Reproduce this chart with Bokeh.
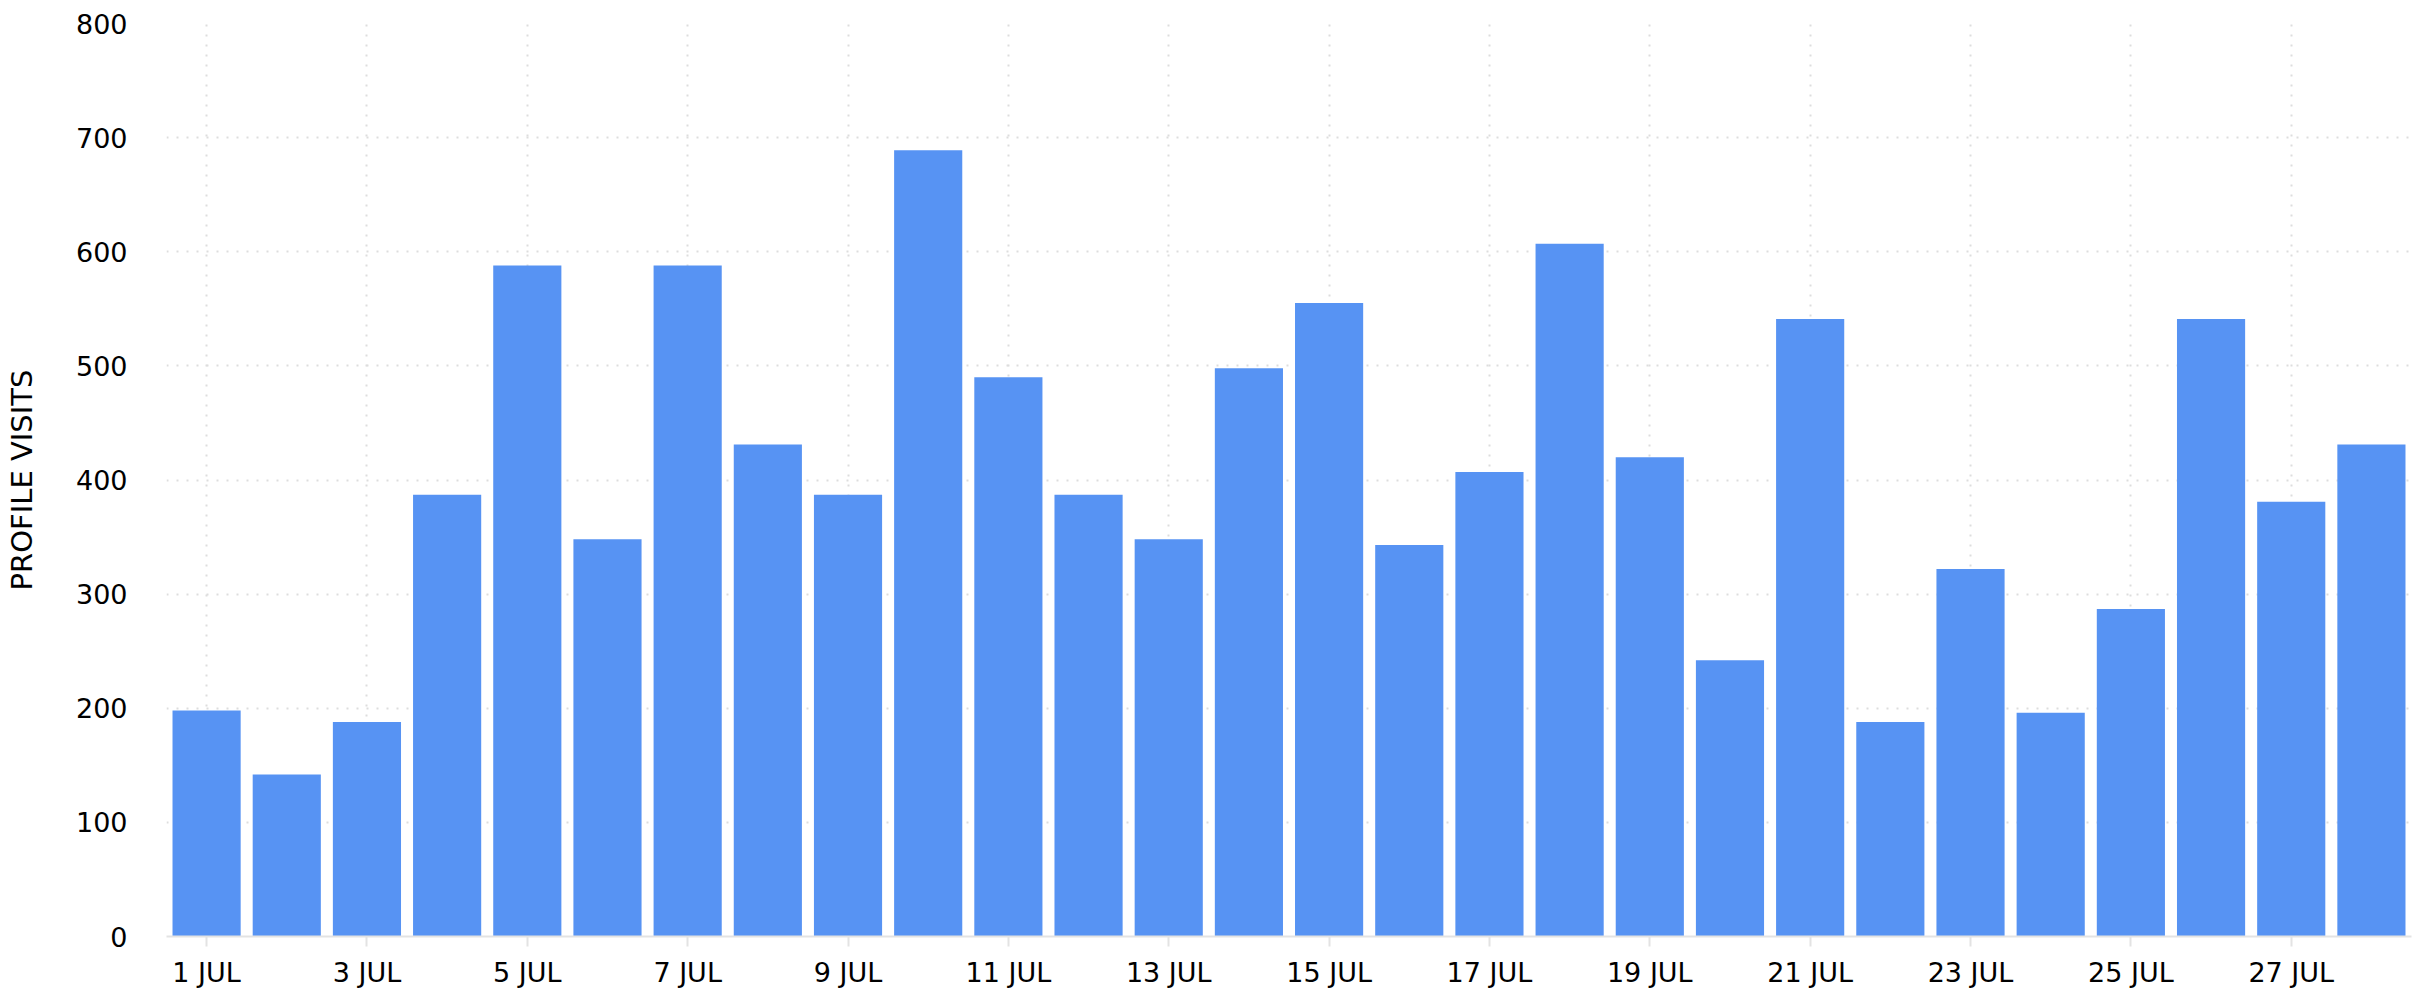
from bokeh.plotting import figure
from bokeh.models import Range1d, FixedTicker
from bokeh.embed import file_html
from bokeh.resources import INLINE

days = list(range(1, 29))
visits = [198, 142, 188, 387, 588, 348, 588, 431, 387, 689, 490, 387, 348, 498,
          555, 343, 407, 607, 420, 242, 541, 188, 322, 196, 287, 541, 381, 431]
tick_days = [1, 3, 5, 7, 9, 11, 13, 15, 17, 19, 21, 23, 25, 27]
tick_labels = ["1 JUL", "3 JUL", "5 JUL", "7 JUL", "9 JUL", "11 JUL", "13 JUL",
               "15 JUL", "17 JUL", "19 JUL", "21 JUL", "23 JUL", "25 JUL", "27 JUL"]
y_ticks = [0, 100, 200, 300, 400, 500, 600, 700, 800]

FONT = "DejaVu Sans"

p = figure(width=2417, height=992, output_backend="svg", toolbar_location=None,
           x_range=Range1d(0.5, 28.5), y_range=Range1d(0, 800),
           min_border_left=166, min_border_right=6, min_border_top=23,
           min_border_bottom=56)
p.outline_line_color = None
p.background_fill_color = "white"
p.border_fill_color = "white"

p.vbar(x=days, top=visits, width=0.85, fill_color="#5793F3", line_color=None)

# x axis
xa = p.xaxis[0]
xa.ticker = FixedTicker(ticks=tick_days)
xa.major_label_overrides = {d: l for d, l in zip(tick_days, tick_labels)}
xa.axis_line_color = "#e3e3e3"
xa.axis_line_width = 2
xa.major_tick_line_color = "#e3e3e3"
xa.major_tick_line_width = 2
xa.major_tick_in = 0
xa.major_tick_out = 10
xa.minor_tick_line_color = None
xa.major_label_standoff = 10
xa.major_label_text_font = FONT
xa.major_label_text_font_size = "27px"
xa.major_label_text_color = "#000000"

# y axis
ya = p.yaxis[0]
ya.ticker = FixedTicker(ticks=y_ticks)
ya.axis_line_color = None
ya.major_tick_line_color = None
ya.minor_tick_line_color = None
ya.major_tick_in = 0
ya.major_tick_out = 0
ya.major_label_standoff = 39
ya.major_label_text_font = FONT
ya.major_label_text_font_size = "27px"
ya.major_label_text_color = "#000000"
ya.axis_label = "PROFILE VISITS"
ya.axis_label_text_font = FONT
ya.axis_label_text_font_size = "29px"
ya.axis_label_text_font_style = "normal"
ya.axis_label_text_color = "#000000"
ya.axis_label_standoff = 34

# grids
for g in (p.xgrid[0], p.ygrid[0]):
    g.grid_line_color = "#dddddd"
    g.grid_line_width = 2
    g.grid_line_dash = "2 8"
p.xgrid[0].ticker = FixedTicker(ticks=tick_days)
p.ygrid[0].ticker = FixedTicker(ticks=y_ticks)

open("out.html", "w").write(file_html(p, INLINE))
